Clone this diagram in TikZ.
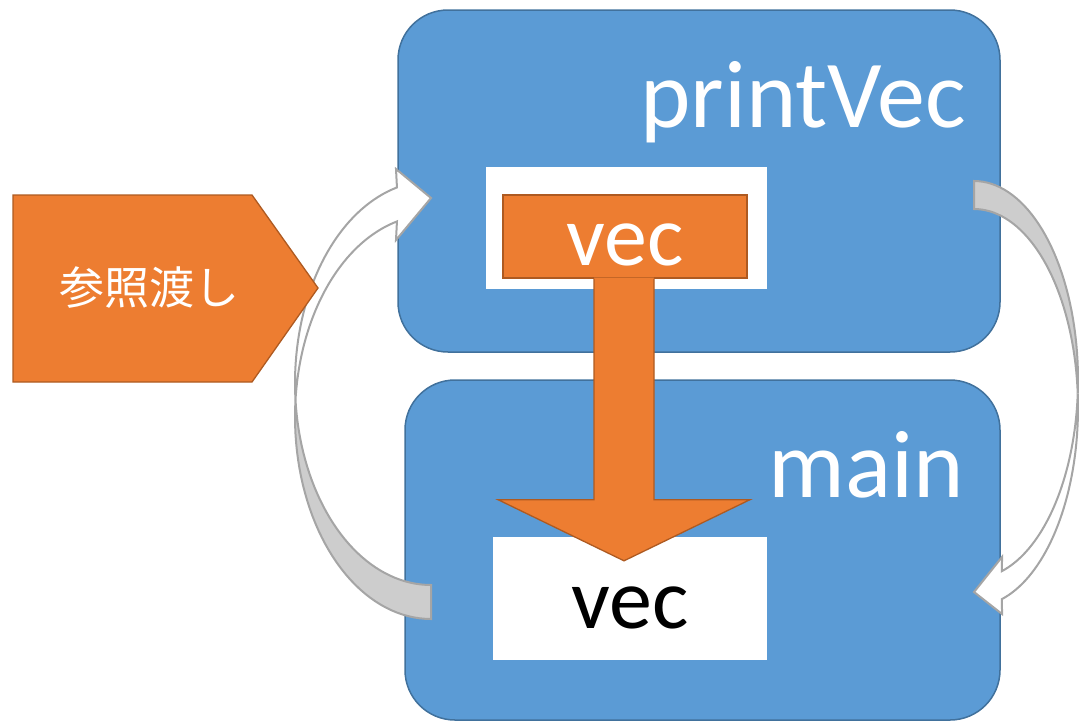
\documentclass[tikz,border=0pt]{standalone}
\usepackage{fontspec}
\setmainfont{Carlito}
\newfontfamily\jpfont{Noto Sans CJK JP}
\usetikzlibrary{positioning,calc}

\definecolor{frameblue}{HTML}{5B9BD5}
\definecolor{frameedge}{HTML}{41719C}
\definecolor{reforange}{HTML}{ED7D31}
\definecolor{refedge}{HTML}{AE5A21}
\definecolor{bendgray}{HTML}{CDCDCD}
\definecolor{bendedge}{HTML}{A5A5A5}

\def\titlesize{\fontsize{96}{96}\selectfont}
\def\varsize{\fontsize{86}{86}\selectfont}
\tikzstyle{frame}=[rectangle, rounded corners=50pt, fill=frameblue, draw=frameedge, line width=1.5pt]
\tikzstyle{slot}=[rectangle, fill=white, inner sep=0pt]
\tikzstyle{refbox}=[fill=reforange, draw=refedge, line width=1.3pt]
\tikzstyle{title}=[text=white, font=\titlesize, inner sep=0pt, anchor=base east]
\tikzstyle{varlabel}=[font=\varsize, inner sep=0pt, anchor=base]
\tikzstyle{bendback}=[fill=bendgray, draw=bendedge, line width=2pt]
\tikzstyle{bendfront}=[fill=white, draw=bendedge, line width=2pt]

\begin{document}
\begin{tikzpicture}[x=1pt, y=-1pt]
  \useasboundingbox (0,0) rectangle (1079,724);

  % function frames
  \node [frame, minimum width=602pt, minimum height=342pt] (printvec) at (699,181) {};
  \node [frame, minimum width=595pt, minimum height=340pt] (main) at (702.5,550) {};
  \node [title] (printvec-title) at (966,127) {printVec};
  \node [title] (main-title) at (964,497) {main};

  % variable slots
  \node [slot, minimum width=281pt, minimum height=122pt] (slot-print) at (626,228) {};
  \node [slot, minimum width=274pt, minimum height=123pt] (slot-main) at (630,598.5) {};
  \node [refbox, rectangle, inner sep=0pt, minimum width=244pt, minimum height=83pt] (vec-ref) at (625,236.5) {};
  \node [varlabel, text=white] (vec-ref-text) at (625,265) {vec};
  \node [varlabel, text=black] (vec-main-text) at (630,628) {vec};

  % reference arrow
  \fill [reforange] ($(vec-ref.south)+(-31,-1)$) -- ++(0,222) -- ++(-96,0)
    -- ($(slot-main.north)+(-6,24)$) -- ($(vec-ref.south)+(125,221)$)
    -- ++(-96,0) -- ++(0,-222) -- cycle;
  \draw [draw=refedge, line width=1.3pt, line join=miter]
    ($(vec-ref.south)+(-31,0)$) -- ++(0,221) -- ++(-96,0)
    -- ($(slot-main.north)+(-6,24)$) -- ($(vec-ref.south)+(125,221)$)
    -- ++(-96,0) -- ++(0,-221);

  % call arrow (main -> printVec)
  \draw [bendback] plot[domain=90:184.8, samples=40] ({431+136*cos(\x)}, {417+202*sin(\x)})
    -- plot[domain=175.2:90, samples=40] ({431+136*cos(\x)}, {383+202*sin(\x)}) -- cycle;
  \draw [bendfront] plot[domain=184.8:255.5, samples=40] ({431+136*cos(\x)}, {417+202*sin(\x)})
    -- (396,240) -- (431,198) -- (396,169)
    -- plot[domain=255.5:175.2, samples=40] ({431+136*cos(\x)}, {383+202*sin(\x)}) -- cycle;

  % return arrow (printVec -> main)
  \draw [bendback] plot[domain=270:364.04, samples=40] ({974+104*cos(\x)}, {379.7+198.7*sin(\x)})
    -- plot[domain=355.96:270, samples=40] ({974+104*cos(\x)}, {407.7+198.7*sin(\x)}) -- cycle;
  \draw [bendfront] plot[domain=4.04:74.4, samples=40] ({974+104*cos(\x)}, {379.7+198.7*sin(\x)})
    -- (1002,557) -- (974,592) -- (1002,614)
    -- plot[domain=74.4:-4.04, samples=40] ({974+104*cos(\x)}, {407.7+198.7*sin(\x)}) -- cycle;

  % pass by reference
  \draw [refbox, line join=miter] (13,195) -- (252,195) -- (318,288) -- (252,382) -- (13,382) -- cycle;
  \node [text=white, font=\jpfont\fontsize{45}{45}\selectfont, inner sep=0pt] (byref) at (149,288) {参照渡し};
\end{tikzpicture}
\end{document}
